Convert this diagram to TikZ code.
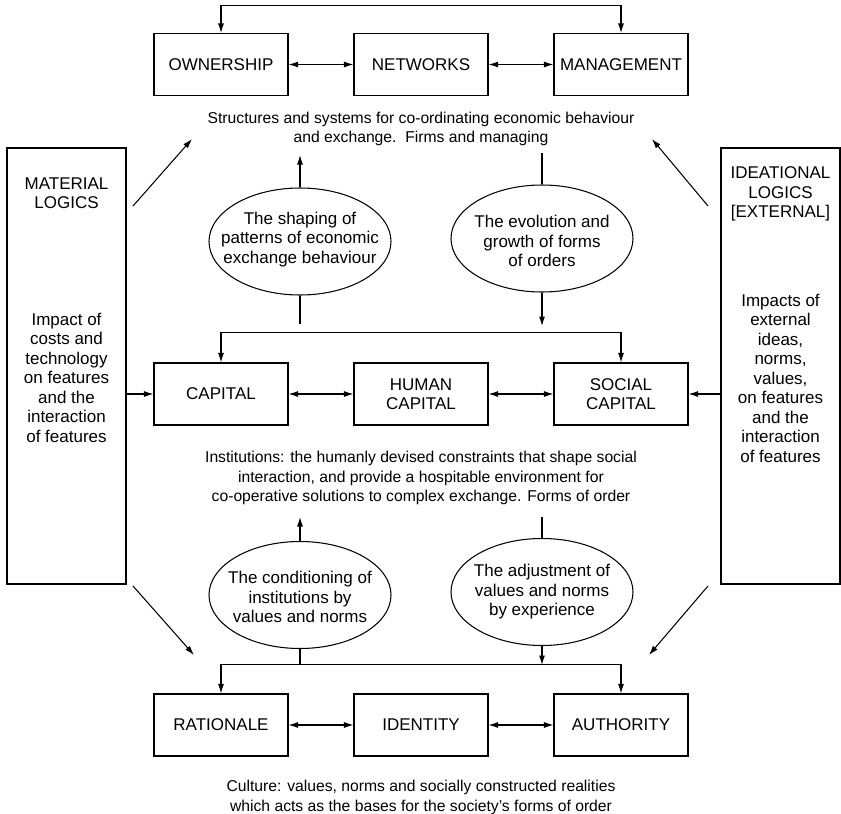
\documentclass[tikz,border=0pt]{standalone}
\usepackage{fontspec}
\setmainfont{Liberation Sans}
\usetikzlibrary{arrows.meta,shapes.geometric}
\begin{document}
\begin{tikzpicture}[x=1pt,y=-1pt,line width=1.05pt,
  >={Latex[length=9.5pt,width=6pt]},
  box/.style={draw, minimum width=134pt, minimum height=62pt, inner sep=0pt, align=center, font=\fontsize{17}{19.5}\selectfont},
  side/.style={draw, minimum width=119pt, minimum height=436pt, inner sep=0pt},
  oval/.style={draw, ellipse, minimum width=182pt, minimum height=107pt, inner sep=0pt},
  lbl/.style={inner sep=0pt, align=center, font=\fontsize{17}{19.5}\selectfont},
  desc/.style={inner sep=0pt, align=center, font=\fontsize{15.7}{19.5}\selectfont}]
\path[fill=white,use as bounding box] (0,0) rectangle (841,814);

% boxes
\node[box] (own) at (221,64.5) {OWNERSHIP};
\node[box] (net) at (421,64.5) {NETWORKS};
\node[box] (mgt) at (621,64.5) {MANAGEMENT};
\node[box] (cap) at (221,394) {CAPITAL};
\node[box] (hum) at (421,394) {HUMAN\\CAPITAL};
\node[box] (soc) at (621,394) {SOCIAL\\CAPITAL};
\node[box] (rat) at (221,725) {RATIONALE};
\node[box] (idn) at (421,725) {IDENTITY};
\node[box] (aut) at (621,725) {AUTHORITY};

% side boxes
\node[side] (mat) at (66.5,366) {};
\node[side] (ide) at (780.5,366) {};
\node[lbl] (matA) at (66.5,193) {MATERIAL\\LOGICS};
\node[lbl] (matB) at (66.5,377.5) {Impact of\\costs and\\technology\\on features\\and the\\interaction\\of features};
\node[lbl] (ideA) at (780.5,194) {IDEATIONAL\\LOGICS\\{[EXTERNAL]}};
\node[lbl] (ideB) at (780.5,378) {Impacts of\\external\\ideas,\\norms,\\values,\\on features\\and the\\interaction\\of features};

% ellipses
\node[oval] (e1) at (300,241.5) {};
\node[lbl] (e1t) at (300,239.5) {The shaping of\\patterns of economic\\exchange behaviour};
\node[oval] (e2) at (542,238.5) {};
\node[lbl] (e2t) at (542,241) {The evolution and\\growth of forms\\of orders};
\node[oval] (e3) at (300,595) {};
\node[lbl] (e3t) at (300,597) {The conditioning of\\institutions by\\values and norms};
\node[oval] (e4) at (542,592) {};
\node[lbl] (e4t) at (542,592) {The adjustment of\\values and norms\\by experience};

% descriptions
\node[desc] (d1) at (421,129) {Structures and systems for co-ordinating economic behaviour\\and exchange.\ \ Firms and managing};
\node[desc] (d2) at (421,478) {Institutions: the humanly devised constraints that shape social\\interaction, and provide a hospitable environment for\\co-operative solutions to complex exchange. Forms of order};
\node[desc] (d3) at (421,797.5) {Culture: values, norms and socially constructed realities\\which acts as the bases for the society’s forms of order};

% row connectors
\draw[<->] (own.north) -- ++(0,-27.5) -| (mgt.north);
\draw[<->] (own.east) -- (net.west);
\draw[<->] (net.east) -- (mgt.west);
\draw[<->] (cap.north) -- ++(0,-30) -| (soc.north);
\draw[<->] (cap.east) -- (hum.west);
\draw[<->] (hum.east) -- (soc.west);
\draw[<->] (rat.north) -- ++(0,-29) -| (aut.north);
\draw[<->] (rat.east) -- (idn.west);
\draw[<->] (idn.east) -- (aut.west);

% ellipse connectors
\coordinate (a1) at (300,155);
\coordinate (b1) at (300,324);
\coordinate (a2) at (542,153);
\coordinate (b2) at (542,326);
\coordinate (a3) at (300,517);
\coordinate (a4) at (542,517);
\coordinate (h3) at (300,665);
\coordinate (h4) at (542,665);
\draw[->] (e1.north) -- (a1);
\draw (e1.south) -- (b1);
\draw (a2) -- (e2.north);
\draw[->] (e2.south) -- (b2);
\draw[->] (e3.north) -- (a3);
\draw (a4) -- (e4.north);
\draw (e3.south) -- (h3);
\draw[->] (e4.south) -- (h4);

% side arrows
\draw[->] (cap.west -| mat.east) -- (cap.west);
\draw[->] (soc.east -| ide.west) -- (soc.east);
\coordinate (p1) at (133,206); \coordinate (q1) at (192,139);
\coordinate (p2) at (708,206); \coordinate (q2) at (652,139);
\coordinate (p3) at (133,586); \coordinate (q3) at (194,655);
\coordinate (p4) at (708,586); \coordinate (q4) at (649,655);
\draw[->] (p1) -- (q1);
\draw[->] (p2) -- (q2);
\draw[->] (p3) -- (q3);
\draw[->] (p4) -- (q4);
\end{tikzpicture}
\end{document}
